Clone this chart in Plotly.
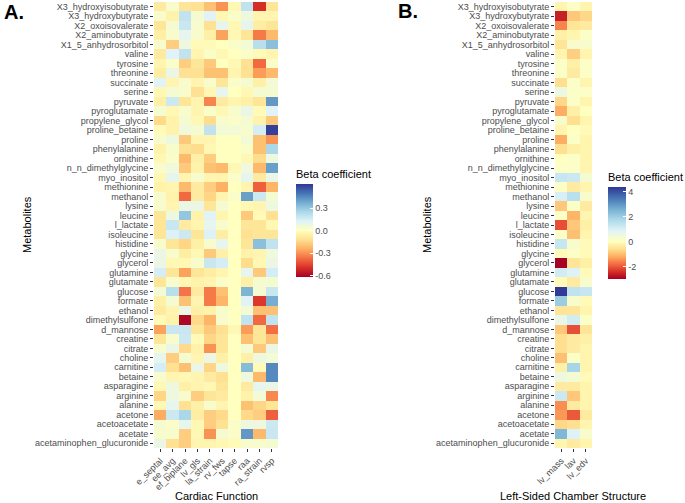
import plotly.graph_objects as go

metabolites = ["X3_hydroxyisobutyrate", "X3_hydroxybutyrate", "X2_oxoisovalerate", "X2_aminobutyrate",
               "X1_5_anhydrosorbitol", "valine", "tyrosine", "threonine", "succinate", "serine", "pyruvate",
               "pyroglutamate", "propylene_glycol", "proline_betaine", "proline", "phenylalanine", "ornithine",
               "n_n_dimethylglycine", "myo_inositol", "methionine", "methanol", "lysine", "leucine", "l_lactate",
               "isoleucine", "histidine", "glycine", "glycerol", "glutamine", "glutamate", "glucose", "formate",
               "ethanol", "dimethylsulfone", "d_mannose", "creatine", "citrate", "choline", "carnitine", "betaine",
               "asparagine", "arginine", "alanine", "acetone", "acetoacetate", "acetate",
               "acetaminophen_glucuronide"]

cardiac_cols = ["e_septal", "ee_avg", "ef_biplane", "lv_gls", "la_strain", "rv_fws", "tapse", "raa",
                "ra_strain", "rvsp"]

structure_cols = ["lv_mass", "lav", "lv_edv"]

cardiac_beta = [
    [-0.08, 0.03, -0.10, -0.12, -0.20, -0.30, -0.03, 0.20, -0.50, -0.10],
    [0.03, -0.05, 0.20, 0.04, 0.12, -0.03, 0.02, 0.07, -0.04, -0.04],
    [-0.10, 0.04, 0.18, 0.03, -0.12, 0.10, -0.03, 0.10, -0.07, -0.10],
    [-0.06, 0.03, 0.10, 0.03, -0.06, -0.27, -0.03, -0.10, -0.35, -0.22],
    [0.03, -0.17, 0.07, -0.02, -0.02, 0.00, 0.02, 0.05, 0.22, 0.32],
    [-0.08, 0.12, 0.20, -0.04, 0.02, -0.03, 0.00, 0.02, -0.02, -0.04],
    [-0.04, 0.02, -0.17, -0.10, -0.18, 0.00, -0.03, -0.12, -0.38, 0.02],
    [-0.07, 0.08, -0.12, -0.12, -0.20, -0.20, -0.04, -0.12, -0.28, -0.22],
    [0.12, -0.04, 0.03, -0.04, 0.03, -0.10, 0.02, 0.04, -0.06, 0.05],
    [-0.03, 0.04, 0.03, -0.12, -0.03, 0.10, 0.00, -0.03, 0.04, 0.04],
    [-0.06, 0.17, -0.10, -0.04, -0.33, -0.08, -0.04, -0.06, -0.10, 0.42],
    [0.04, -0.03, 0.03, -0.04, 0.02, -0.03, 0.03, 0.08, -0.02, 0.12],
    [-0.14, -0.05, 0.04, -0.03, -0.13, 0.03, 0.02, 0.04, -0.05, -0.18],
    [-0.02, -0.05, 0.06, 0.04, 0.20, 0.05, 0.05, 0.03, 0.15, 0.60],
    [0.03, 0.07, -0.18, -0.04, -0.04, 0.00, 0.00, 0.05, -0.20, -0.30],
    [-0.05, 0.03, -0.12, -0.13, -0.03, 0.00, 0.00, 0.02, -0.20, 0.25],
    [-0.03, 0.02, -0.22, -0.06, -0.17, 0.00, 0.00, -0.03, -0.13, 0.07],
    [0.03, 0.06, -0.18, -0.05, -0.20, -0.22, -0.03, 0.06, -0.22, 0.40],
    [-0.03, 0.10, -0.04, 0.03, -0.04, -0.04, 0.02, 0.10, -0.08, 0.08],
    [-0.05, -0.04, -0.22, -0.08, -0.17, -0.24, 0.00, -0.04, -0.40, -0.23],
    [0.03, -0.05, -0.38, -0.08, -0.15, -0.04, 0.02, 0.40, 0.17, 0.04],
    [0.03, -0.04, 0.08, 0.08, -0.10, 0.04, 0.00, -0.03, -0.04, 0.07],
    [-0.10, 0.07, 0.30, -0.05, 0.12, -0.04, 0.00, -0.18, -0.02, -0.12],
    [-0.10, 0.18, -0.08, -0.04, 0.10, 0.03, 0.00, -0.10, -0.10, -0.03],
    [-0.10, 0.13, 0.17, -0.10, 0.13, -0.07, 0.00, -0.12, -0.10, -0.10],
    [0.03, -0.10, -0.15, -0.06, 0.03, 0.10, 0.00, -0.10, 0.32, 0.20],
    [0.08, 0.03, -0.07, -0.03, -0.18, -0.06, 0.00, -0.05, -0.04, 0.06],
    [0.08, -0.03, -0.03, 0.03, 0.18, 0.15, 0.00, -0.13, -0.03, 0.08],
    [0.15, -0.10, -0.27, -0.10, -0.07, -0.04, 0.00, 0.10, -0.18, 0.15],
    [-0.10, 0.03, -0.03, -0.05, -0.04, 0.02, 0.00, -0.06, 0.04, 0.04],
    [0.05, 0.22, -0.36, -0.08, -0.35, -0.20, 0.00, 0.35, 0.04, 0.18],
    [-0.06, 0.04, -0.20, -0.04, -0.35, -0.23, 0.00, 0.12, -0.48, 0.37],
    [-0.08, -0.04, 0.08, -0.06, -0.05, 0.03, 0.00, 0.05, -0.20, -0.20],
    [-0.02, -0.05, -0.60, -0.14, -0.23, 0.03, 0.00, 0.20, -0.38, 0.20],
    [-0.27, 0.18, 0.18, -0.10, -0.18, -0.12, -0.03, -0.28, -0.10, -0.37],
    [-0.10, 0.03, 0.17, -0.02, -0.15, -0.10, 0.00, -0.20, -0.10, -0.20],
    [0.03, 0.08, -0.14, -0.05, -0.30, -0.10, 0.00, 0.04, -0.18, 0.08],
    [0.10, -0.17, 0.04, -0.04, 0.08, -0.06, 0.00, -0.06, 0.07, 0.05],
    [0.15, -0.12, -0.20, 0.08, -0.15, 0.07, 0.00, 0.33, -0.02, 0.45],
    [0.03, -0.04, -0.03, -0.04, -0.08, -0.12, 0.00, 0.06, -0.22, 0.45],
    [-0.03, 0.07, -0.06, -0.04, -0.03, -0.10, 0.00, -0.08, 0.10, 0.08],
    [-0.15, 0.07, 0.03, -0.17, -0.10, -0.08, 0.00, -0.05, 0.05, -0.32],
    [-0.03, 0.10, -0.12, -0.06, 0.03, -0.04, 0.00, -0.20, -0.15, -0.10],
    [-0.25, 0.17, 0.25, -0.07, -0.17, -0.14, 0.00, -0.14, -0.17, -0.40],
    [0.04, 0.02, 0.10, -0.03, -0.17, -0.12, 0.02, 0.07, 0.07, 0.17],
    [0.03, 0.03, -0.17, -0.03, -0.30, 0.04, 0.02, 0.42, -0.22, 0.18],
    [0.08, -0.12, -0.17, -0.04, -0.04, -0.03, -0.02, 0.03, 0.03, 0.04],
]

structure_beta = [
    [-0.2, 0.1, -0.2],
    [-2.6, -0.9, -0.7],
    [-1.6, -0.5, -0.4],
    [-0.3, -0.2, 0.1],
    [-0.5, 0.2, 0.2],
    [-0.2, -0.8, -0.2],
    [0.1, -0.3, 0.1],
    [0.1, -0.4, 0.1],
    [-0.6, 0.1, -0.2],
    [0.5, 0.1, 0.1],
    [-0.7, 0.1, -0.2],
    [-1.2, -0.3, 0.0],
    [0.2, -0.6, -0.2],
    [-0.2, 0.0, -0.1],
    [-1.2, 0.1, -0.2],
    [-0.6, -0.3, -0.2],
    [0.0, 0.1, -0.2],
    [0.1, 0.1, -0.2],
    [1.3, 1.2, 0.3],
    [0.1, -0.4, -0.2],
    [1.0, 1.5, 0.2],
    [-0.9, 0.1, -0.4],
    [0.1, -1.1, -0.2],
    [-2.1, -0.9, -0.3],
    [0.1, -1.0, -0.2],
    [1.3, 0.2, -0.1],
    [-0.1, 0.1, -0.1],
    [-3.0, -0.5, -0.3],
    [1.1, 0.9, -0.1],
    [-0.1, -0.4, 0.2],
    [4.3, 1.4, 1.3],
    [2.0, 0.2, -0.1],
    [-0.5, -0.5, -0.2],
    [0.6, 1.1, 0.1],
    [-0.9, -2.1, -0.5],
    [-0.6, -0.4, -0.3],
    [-0.6, -0.4, -0.2],
    [-1.0, 0.1, -0.2],
    [-0.3, 1.8, -0.2],
    [0.5, 0.3, -0.1],
    [-0.4, -0.4, -0.2],
    [1.2, -0.9, -0.2],
    [-1.5, -0.4, -0.2],
    [-1.4, -2.0, -0.4],
    [-0.7, -0.6, -0.2],
    [2.4, 0.9, 0.2],
    [-0.2, -0.4, -0.2],
]

cardiac_ticks = [-0.6, -0.3, 0.0, 0.3]
cardiac_ticktext = ["-0.6", "-0.3", "0.0", "0.3"]
structure_ticks = [-2, 0, 2, 4]
structure_ticktext = ["-2", "0", "2", "4"]

W, H = 685, 503
neg = ["#a50026", "#d73027", "#f46d43", "#fdae61", "#fee090", "#ffffbf"]
pos = ["#ffffbf", "#e0f3f8", "#abd9e9", "#74add1", "#4575b4", "#313695"]


def diverging(zmin, zmax):
    t0 = (0 - zmin) / (zmax - zmin)
    cs = []
    for i, c in enumerate(neg):
        cs.append([t0 * i / 5, c])
    for i, c in enumerate(pos[1:], start=1):
        cs.append([t0 + (1 - t0) * i / 5, c])
    return cs


FONT = "Liberation Sans, Arial, sans-serif"
GRAY = "#4d4d4d"

c_min, c_max = -0.62, 0.62
s_min, s_max = -3.0, 4.35

fig = go.Figure()
fig.add_trace(go.Heatmap(
    z=cardiac_beta, x=cardiac_cols, y=metabolites, xaxis="x", yaxis="y",
    zmin=c_min, zmax=c_max, colorscale=diverging(c_min, c_max),
    colorbar=dict(
        x=296 / W, xanchor="left", y=1 - 222 / H, yanchor="middle",
        len=110 / H, lenmode="fraction", thickness=17, xpad=0, ypad=0,
        outlinewidth=0, ticks="inside", tickcolor="white", ticklen=3,
        tickvals=cardiac_ticks, ticktext=cardiac_ticktext,
        tickfont=dict(size=9, color=GRAY, family=FONT),
        title=dict(text="Beta coefficient", side="top", font=dict(size=11, color="black", family=FONT)),
    ),
))
fig.add_trace(go.Heatmap(
    z=structure_beta, x=structure_cols, y=metabolites, xaxis="x2", yaxis="y2",
    zmin=s_min, zmax=s_max, colorscale=diverging(s_min, s_max),
    colorbar=dict(
        x=608 / W, xanchor="left", y=1 - 224.5 / H, yanchor="middle",
        len=109 / H, lenmode="fraction", thickness=18, xpad=0, ypad=0,
        outlinewidth=0, ticks="inside", tickcolor="white", ticklen=3,
        tickvals=structure_ticks, ticktext=structure_ticktext,
        tickfont=dict(size=9, color=GRAY, family=FONT),
        title=dict(text="Beta coefficient", side="top", font=dict(size=11, color="black", family=FONT)),
    ),
))

ydom = [1 - 448 / H, 1 - 2 / H]
axis_common = dict(showgrid=False, zeroline=False, showline=False, ticks="outside", ticklen=3,
                   tickcolor="#333333", tickfont=dict(size=9, color=GRAY, family=FONT), automargin=False)
yaxis_common = dict(tickmode="array", tickvals=metabolites, ticktext=metabolites, autorange="reversed",
                    **axis_common)

fig.update_layout(
    width=W, height=H, margin=dict(l=0, r=0, t=0, b=0),
    paper_bgcolor="white", plot_bgcolor="white", template="none",
    font=dict(family=FONT),
    xaxis=dict(domain=[154 / W, 278 / W], anchor="y", tickangle=-45, **axis_common),
    yaxis=dict(domain=ydom, anchor="x", **yaxis_common),
    xaxis2=dict(domain=[555 / W, 592 / W], anchor="y2", tickangle=-45, **axis_common),
    yaxis2=dict(domain=ydom, anchor="x2", **yaxis_common),
)

ann = [
    dict(text="<b>A.</b>", x=2 / W, y=1 - 12 / H, xanchor="left", yanchor="middle", font=dict(size=20, color="black")),
    dict(text="<b>B.</b>", x=396 / W, y=1 - 11 / H, xanchor="left", yanchor="middle", font=dict(size=20, color="black")),
    dict(text="Cardiac Function", x=216 / W, y=1 - 496 / H, xanchor="center", yanchor="middle", font=dict(size=11, color="black")),
    dict(text="Left-Sided Chamber Structure", x=573 / W, y=1 - 496 / H, xanchor="center", yanchor="middle", font=dict(size=11, color="black")),
    dict(text="Metabolites", x=27 / W, y=1 - 225 / H, xanchor="center", yanchor="middle", textangle=-90, font=dict(size=11, color="black")),
    dict(text="Metabolites", x=427 / W, y=1 - 225 / H, xanchor="center", yanchor="middle", textangle=-90, font=dict(size=11, color="black")),
]
for a in ann:
    a.update(xref="paper", yref="paper", showarrow=False)
    a["font"]["family"] = FONT
fig.update_layout(annotations=ann)

fig.write_html("out.html", config={"displayModeBar": False},
               post_script="document.body.style.margin='0';document.body.style.padding='0';")
